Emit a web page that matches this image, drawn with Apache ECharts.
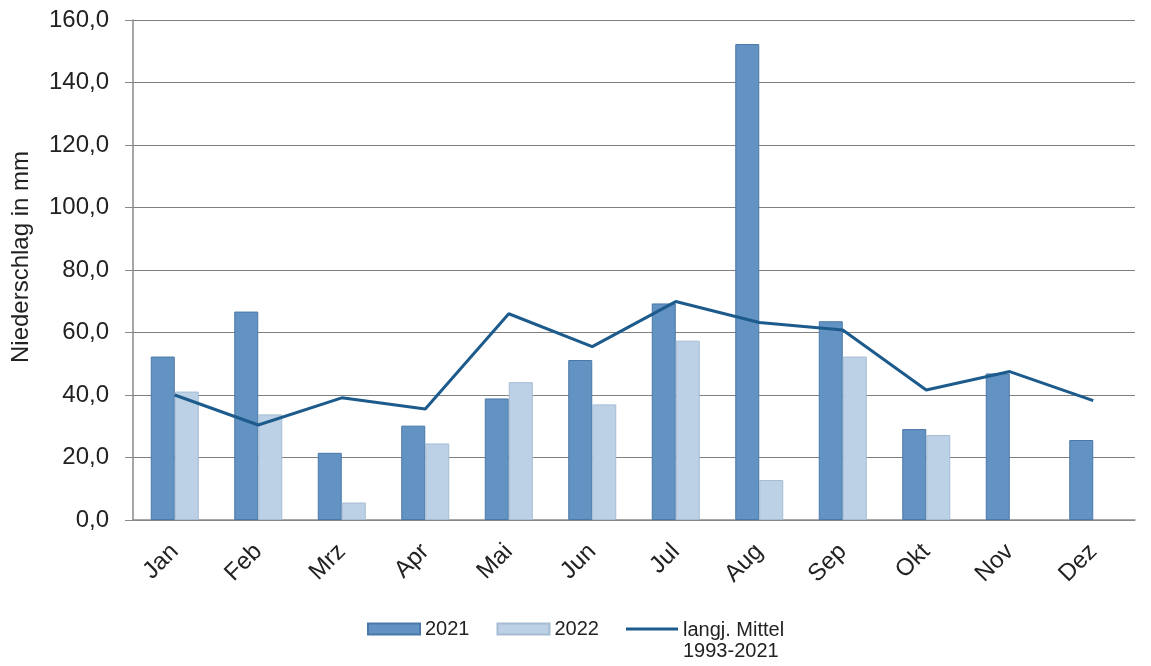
<!DOCTYPE html>
<html>
<head>
<meta charset="utf-8">
<script src="https://cdn.jsdelivr.net/npm/echarts@6/dist/echarts.min.js"></script>
<style>
  html, body { margin: 0; padding: 0; background: #fff; }
  #chart { width: 1151px; height: 666px; }
</style>
</head>
<body>
<div id="chart"></div>
<script>
// Monatlicher Niederschlag (mm)
const months = ['Jan', 'Feb', 'Mrz', 'Apr', 'Mai', 'Jun', 'Jul', 'Aug', 'Sep', 'Okt', 'Nov', 'Dez'];
const rain2021 = [52.3, 66.7, 21.5, 30.2, 38.9, 51.2, 69.3, 152.3, 63.6, 29.1, 46.9, 25.6];
const rain2022 = [41.1, 33.8, 5.6, 24.5, 44.1, 37.0, 57.4, 12.8, 52.3, 27.2, null, null];
const longTermMean = [40.0, 30.4, 39.1, 35.5, 66.0, 55.5, 69.9, 63.2, 60.8, 41.6, 47.5, 38.2];
const yTicks = { min: 0, max: 160, interval: 20 };
const meanName = 'langj. Mittel 1993-2021';

const fontFamily = '"Liberation Sans", Arial, sans-serif';
const lineColor = '#1d5b8c';
const chart = echarts.init(document.getElementById('chart'));

chart.setOption({
  animation: false,
  textStyle: { fontFamily: fontFamily },
  grid: { left: 133, right: 16, top: 20, bottom: 146 },
  legend: {
    top: 614,
    left: 362,
    itemWidth: 52,
    itemHeight: 11,
    itemGap: 27,
    textStyle: {
      fontSize: 20,
      color: '#222',
      fontFamily: fontFamily,
      rich: {
        // first line sits level with the legend symbol, second line hangs below
        l1: { fontSize: 20, lineHeight: 44, verticalAlign: 'bottom', color: '#222', fontFamily: fontFamily },
        l2: { fontSize: 20, lineHeight: 22, color: '#222', fontFamily: fontFamily }
      }
    },
    formatter: name => name === meanName
      ? '{l1|langj. Mittel}\n{l2|1993-2021}'
      : name,
    data: [
      { name: '2021', icon: 'rect' },
      { name: '2022', icon: 'rect' },
      {
        name: meanName,
        // thin horizontal stroke centred in the 52x11 symbol box
        icon: 'path://M0,0L0,0ZM0,4L52,4L52,7L0,7ZM0,11L0,11Z',
        itemStyle: { color: lineColor, borderWidth: 0 }
      }
    ]
  },
  xAxis: {
    type: 'category',
    data: months,
    axisLine: { lineStyle: { color: '#8a8a8a', width: 1.5 } },
    axisTick: { show: false },
    axisLabel: {
      rotate: 45,
      fontSize: 24,
      color: '#222',
      margin: 28,
      fontFamily: fontFamily
    }
  },
  yAxis: {
    type: 'value',
    min: yTicks.min,
    max: yTicks.max,
    interval: yTicks.interval,
    name: 'Niederschlag in mm',
    nameLocation: 'middle',
    nameGap: 100,
    nameRotate: 90,
    nameTextStyle: { fontSize: 24, color: '#222', fontFamily: fontFamily, padding: [0, 0, 0, 26] },
    axisLine: { show: true, lineStyle: { color: '#8a8a8a', width: 1.5 } },
    axisTick: { show: true, inside: false, length: 8, lineStyle: { color: '#8a8a8a' } },
    axisLabel: {
      fontSize: 24,
      color: '#222',
      margin: 24,
      fontFamily: fontFamily,
      formatter: v => v.toFixed(1).replace('.', ',')
    },
    splitLine: { show: true, lineStyle: { color: '#7f7f7f', width: 1.2 } }
  },
  series: [
    {
      name: '2021',
      type: 'bar',
      data: rain2021,
      barWidth: 24,
      barGap: '0%',
      itemStyle: { color: '#6393c3', borderColor: '#4a78a8', borderWidth: 1 }
    },
    {
      name: '2022',
      type: 'bar',
      data: rain2022,
      barWidth: 24,
      barGap: '0%',
      itemStyle: { color: '#bcd1e5', borderColor: '#a5bcd3', borderWidth: 1 }
    },
    {
      name: meanName,
      type: 'line',
      data: longTermMean,
      symbol: 'none',
      lineStyle: { color: lineColor, width: 3 },
      itemStyle: { color: lineColor },
      z: 5
    }
  ]
});
</script>
</body>
</html>
